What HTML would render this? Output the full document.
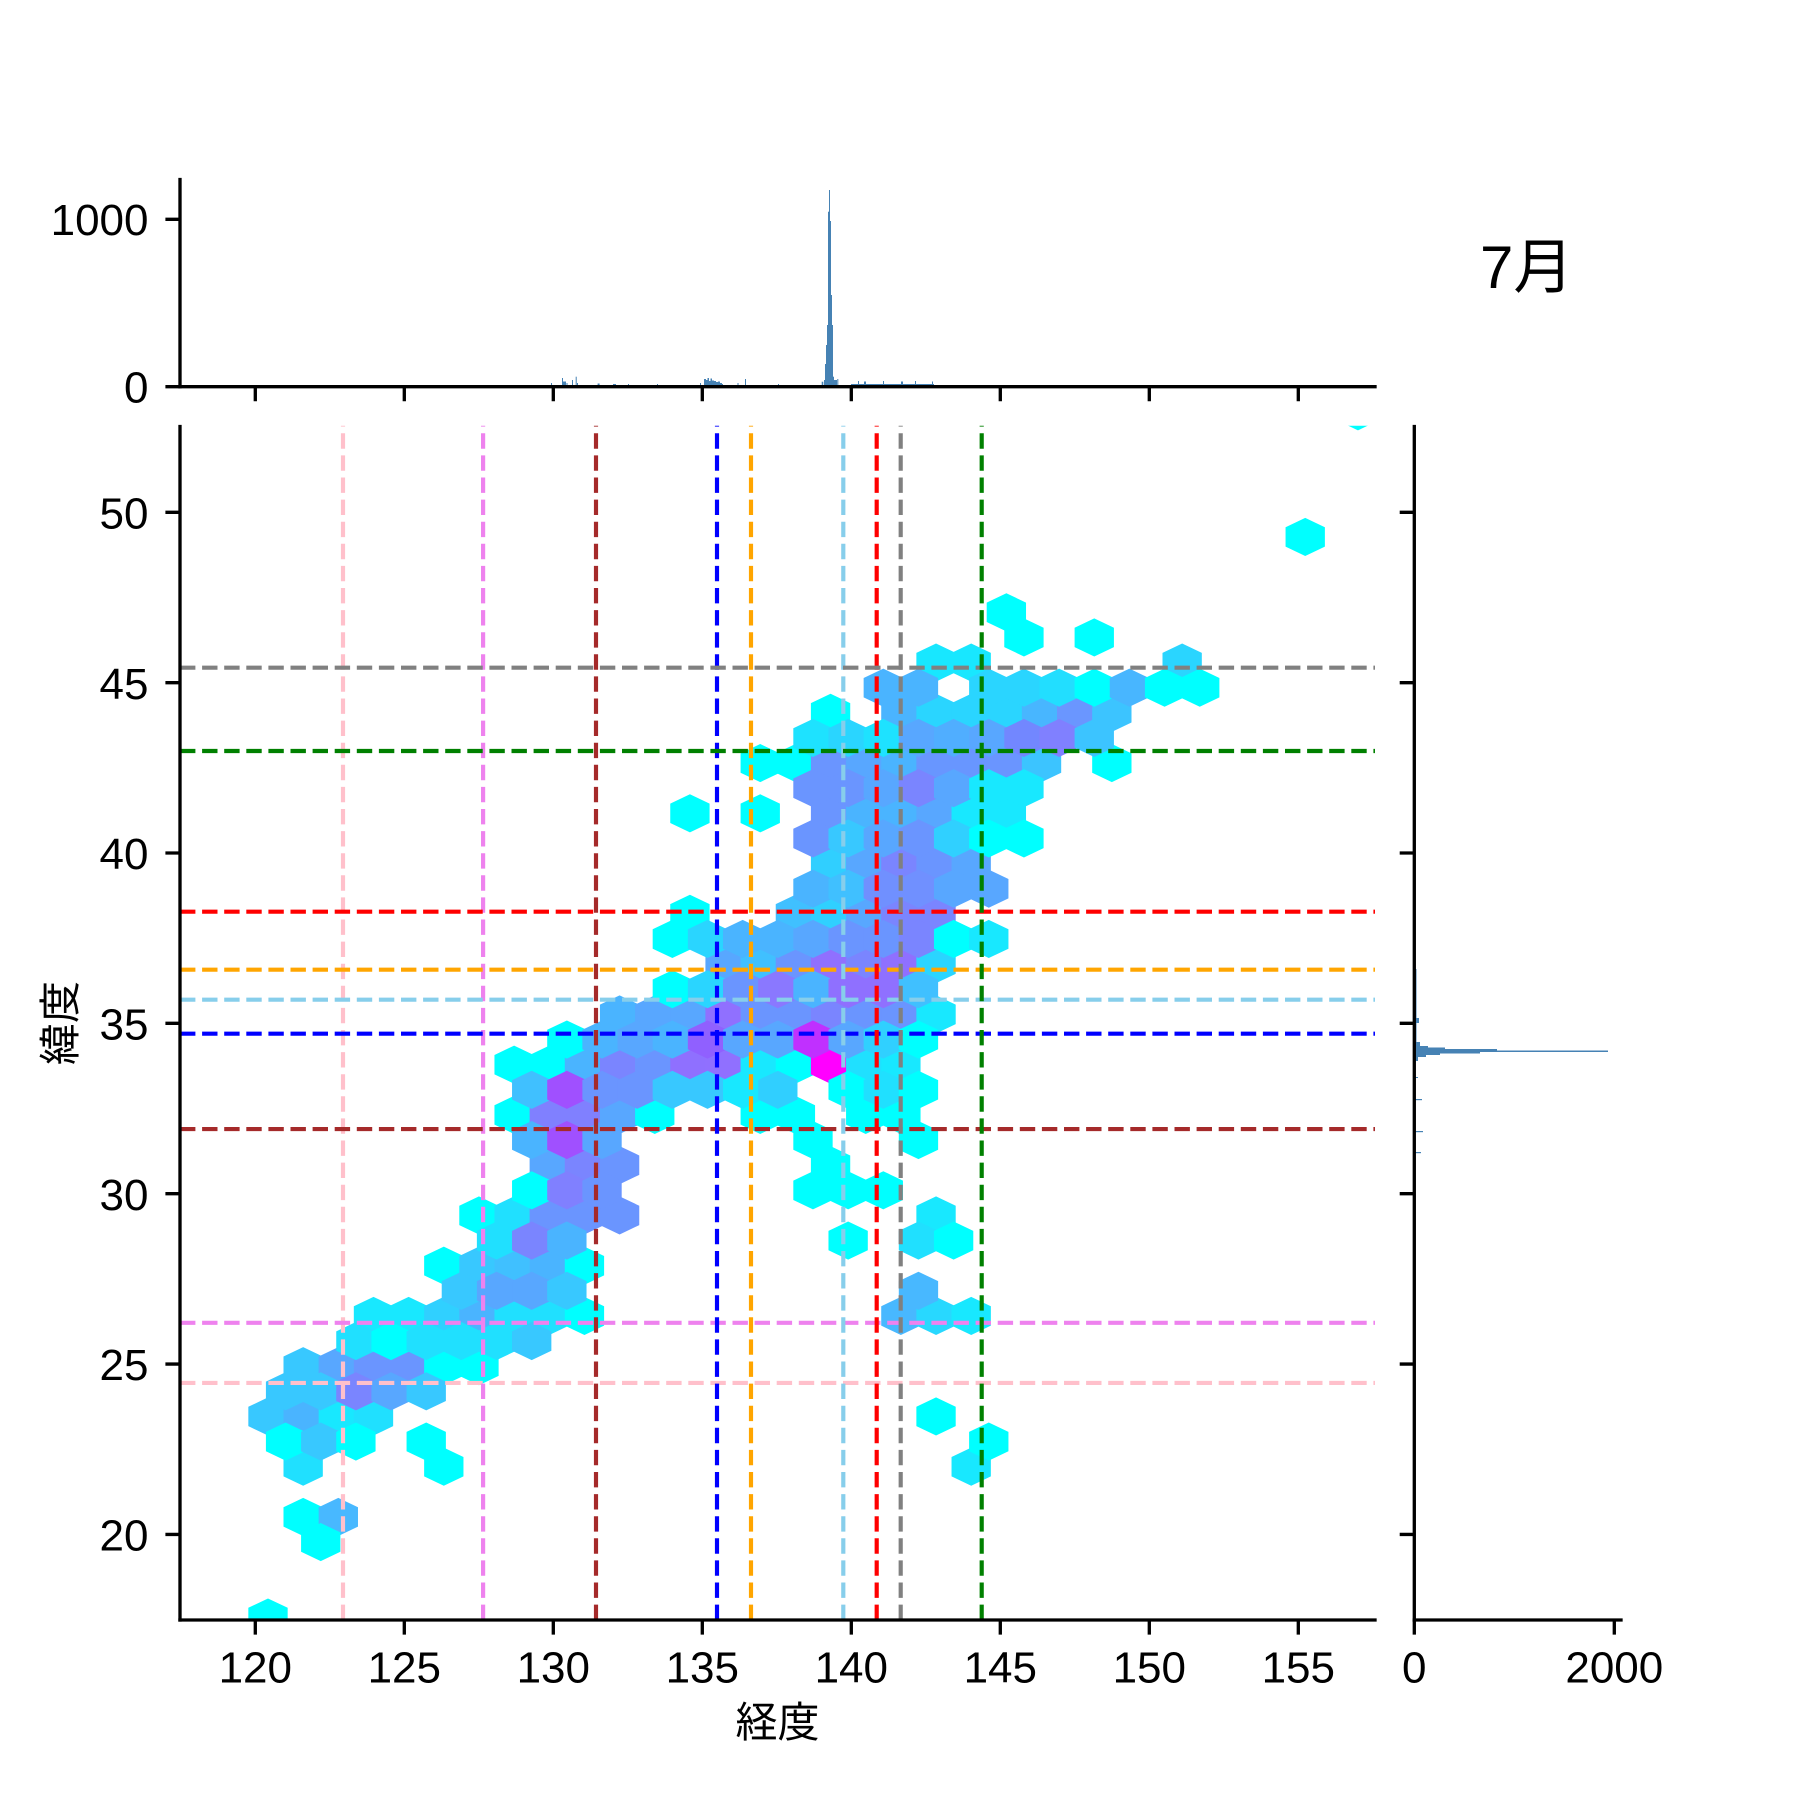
<!DOCTYPE html>
<html><head><meta charset="utf-8"><style>
html,body{margin:0;padding:0;background:#fff;}
svg{display:block;}
.t{font-family:"Liberation Sans","Noto Sans CJK JP",sans-serif;font-size:44px;fill:#000;}
.j{font-family:"Liberation Sans","Noto Sans CJK JP",sans-serif;font-size:42px;fill:#000;}
</style></head><body>
<svg width="1800" height="1800" viewBox="0 0 1800 1800" xmlns="http://www.w3.org/2000/svg">
<defs>
<polygon id="H" points="0,0.7585 0.5593,0.3859 0.5593,-0.3859 0,-0.7585 -0.5593,-0.3859 -0.5593,0.3859"/>
<clipPath id="cm"><rect x="180" y="425.7" width="1195" height="1194.3"/></clipPath>
</defs>
<rect width="1800" height="1800" fill="#fff"/>

<g clip-path="url(#cm)">
<g transform="translate(268 1617.5) scale(35.16 -25.13)">
<use href="#H" x="0" y="0" fill="#00ffff"/>
<use href="#H" x="1" y="4" fill="#00ffff"/><use href="#H" x="2" y="4" fill="#48b8ff"/>
<use href="#H" x="1" y="6" fill="#20e0ff"/><use href="#H" x="5" y="6" fill="#00ffff"/><use href="#H" x="20" y="6" fill="#18e8ff"/>
<use href="#H" x="0" y="8" fill="#38c8ff"/><use href="#H" x="1" y="8" fill="#4ab4ff"/><use href="#H" x="2" y="8" fill="#18e8ff"/><use href="#H" x="3" y="8" fill="#20e0ff"/><use href="#H" x="19" y="8" fill="#00ffff"/>
<use href="#H" x="1" y="10" fill="#38c8ff"/><use href="#H" x="2" y="10" fill="#58a7ff"/><use href="#H" x="3" y="10" fill="#6a95ff"/><use href="#H" x="4" y="10" fill="#6a95ff"/><use href="#H" x="5" y="10" fill="#00ffff"/><use href="#H" x="6" y="10" fill="#00ffff"/>
<use href="#H" x="3" y="12" fill="#18e8ff"/><use href="#H" x="4" y="12" fill="#18e8ff"/><use href="#H" x="5" y="12" fill="#30d0ff"/><use href="#H" x="6" y="12" fill="#4ab4ff"/><use href="#H" x="7" y="12" fill="#20e0ff"/><use href="#H" x="8" y="12" fill="#20e0ff"/><use href="#H" x="9" y="12" fill="#00ffff"/><use href="#H" x="18" y="12" fill="#48b8ff"/><use href="#H" x="19" y="12" fill="#28d8ff"/><use href="#H" x="20" y="12" fill="#18e8ff"/>
<use href="#H" x="5" y="14" fill="#00ffff"/><use href="#H" x="6" y="14" fill="#38c8ff"/><use href="#H" x="7" y="14" fill="#40c0ff"/><use href="#H" x="8" y="14" fill="#4ab4ff"/><use href="#H" x="9" y="14" fill="#00ffff"/>
<use href="#H" x="6" y="16" fill="#00ffff"/><use href="#H" x="7" y="16" fill="#20e0ff"/><use href="#H" x="8" y="16" fill="#6a95ff"/><use href="#H" x="9" y="16" fill="#6a95ff"/><use href="#H" x="10" y="16" fill="#6a95ff"/><use href="#H" x="19" y="16" fill="#18e8ff"/>
<use href="#H" x="8" y="18" fill="#58a7ff"/><use href="#H" x="9" y="18" fill="#7a85ff"/><use href="#H" x="10" y="18" fill="#6a95ff"/><use href="#H" x="16" y="18" fill="#00ffff"/>
<use href="#H" x="7" y="20" fill="#00ffff"/><use href="#H" x="8" y="20" fill="#8080ff"/><use href="#H" x="9" y="20" fill="#8080ff"/><use href="#H" x="10" y="20" fill="#58a7ff"/><use href="#H" x="11" y="20" fill="#00ffff"/><use href="#H" x="14" y="20" fill="#00ffff"/><use href="#H" x="15" y="20" fill="#00ffff"/><use href="#H" x="17" y="20" fill="#00ffff"/><use href="#H" x="18" y="20" fill="#00ffff"/>
<use href="#H" x="7" y="22" fill="#00ffff"/><use href="#H" x="8" y="22" fill="#00ffff"/><use href="#H" x="9" y="22" fill="#4ab4ff"/><use href="#H" x="10" y="22" fill="#7a85ff"/><use href="#H" x="11" y="22" fill="#6a95ff"/><use href="#H" x="12" y="22" fill="#8f70ff"/><use href="#H" x="13" y="22" fill="#9070ff"/><use href="#H" x="14" y="22" fill="#18e8ff"/><use href="#H" x="15" y="22" fill="#00ffff"/><use href="#H" x="16" y="22" fill="#ff00ff"/><use href="#H" x="17" y="22" fill="#20e0ff"/><use href="#H" x="18" y="22" fill="#18e8ff"/>
<use href="#H" x="10" y="24" fill="#4ab4ff"/><use href="#H" x="11" y="24" fill="#58a7ff"/><use href="#H" x="12" y="24" fill="#58a7ff"/><use href="#H" x="13" y="24" fill="#9070ff"/><use href="#H" x="14" y="24" fill="#6a95ff"/><use href="#H" x="15" y="24" fill="#6a95ff"/><use href="#H" x="16" y="24" fill="#7a85ff"/><use href="#H" x="17" y="24" fill="#6a95ff"/><use href="#H" x="18" y="24" fill="#6a95ff"/><use href="#H" x="19" y="24" fill="#18e8ff"/>
<use href="#H" x="13" y="26" fill="#58a7ff"/><use href="#H" x="14" y="26" fill="#40c0ff"/><use href="#H" x="15" y="26" fill="#6a95ff"/><use href="#H" x="16" y="26" fill="#9070ff"/><use href="#H" x="17" y="26" fill="#7a85ff"/><use href="#H" x="18" y="26" fill="#8f70ff"/><use href="#H" x="19" y="26" fill="#2ad5ff"/>
<use href="#H" x="12" y="28" fill="#00ffff"/><use href="#H" x="15" y="28" fill="#40c0ff"/><use href="#H" x="16" y="28" fill="#30d0ff"/><use href="#H" x="17" y="28" fill="#58a7ff"/><use href="#H" x="18" y="28" fill="#7a85ff"/><use href="#H" x="19" y="28" fill="#7a85ff"/>
<use href="#H" x="16" y="30" fill="#30cfff"/><use href="#H" x="17" y="30" fill="#58a7ff"/><use href="#H" x="18" y="30" fill="#7a85ff"/><use href="#H" x="19" y="30" fill="#6a95ff"/><use href="#H" x="20" y="30" fill="#58a7ff"/>
<use href="#H" x="12" y="32" fill="#00ffff"/><use href="#H" x="14" y="32" fill="#00ffff"/><use href="#H" x="16" y="32" fill="#6a95ff"/><use href="#H" x="17" y="32" fill="#4ab4ff"/><use href="#H" x="18" y="32" fill="#4ab4ff"/><use href="#H" x="19" y="32" fill="#58a7ff"/><use href="#H" x="20" y="32" fill="#18e8ff"/><use href="#H" x="21" y="32" fill="#18e8ff"/>
<use href="#H" x="14" y="34" fill="#00ffff"/><use href="#H" x="15" y="34" fill="#00ffff"/><use href="#H" x="16" y="34" fill="#6a95ff"/><use href="#H" x="17" y="34" fill="#58a7ff"/><use href="#H" x="18" y="34" fill="#4ab4ff"/><use href="#H" x="19" y="34" fill="#6896ff"/><use href="#H" x="20" y="34" fill="#6896ff"/><use href="#H" x="21" y="34" fill="#6a95ff"/><use href="#H" x="22" y="34" fill="#3cc4ff"/><use href="#H" x="24" y="34" fill="#00ffff"/>
<use href="#H" x="16" y="36" fill="#00ffff"/><use href="#H" x="18" y="36" fill="#4ab4ff"/><use href="#H" x="19" y="36" fill="#2ad5ff"/><use href="#H" x="20" y="36" fill="#2ad5ff"/><use href="#H" x="21" y="36" fill="#2ad5ff"/><use href="#H" x="22" y="36" fill="#48b6ff"/><use href="#H" x="23" y="36" fill="#6a96ff"/><use href="#H" x="24" y="36" fill="#3cc4ff"/>
<use href="#H" x="19" y="38" fill="#18e7ff"/><use href="#H" x="20" y="38" fill="#18e7ff"/><use href="#H" x="26" y="38" fill="#2ad5ff"/>
<use href="#H" x="21" y="40" fill="#00ffff"/>
<use href="#H" x="31" y="48" fill="#00ffff"/>
<use href="#H" x="1.5" y="3" fill="#00ffff"/>
<use href="#H" x="0.5" y="7" fill="#00ffff"/><use href="#H" x="1.5" y="7" fill="#38c8ff"/><use href="#H" x="2.5" y="7" fill="#00ffff"/><use href="#H" x="4.5" y="7" fill="#00ffff"/><use href="#H" x="20.5" y="7" fill="#00ffff"/>
<use href="#H" x="0.5" y="9" fill="#38c8ff"/><use href="#H" x="1.5" y="9" fill="#38c8ff"/><use href="#H" x="2.5" y="9" fill="#7a85ff"/><use href="#H" x="3.5" y="9" fill="#58a7ff"/><use href="#H" x="4.5" y="9" fill="#38c8ff"/>
<use href="#H" x="2.5" y="11" fill="#20e0ff"/><use href="#H" x="3.5" y="11" fill="#00ffff"/><use href="#H" x="4.5" y="11" fill="#20e0ff"/><use href="#H" x="5.5" y="11" fill="#20e0ff"/><use href="#H" x="6.5" y="11" fill="#20e0ff"/><use href="#H" x="7.5" y="11" fill="#38c8ff"/>
<use href="#H" x="5.5" y="13" fill="#38c8ff"/><use href="#H" x="6.5" y="13" fill="#58a7ff"/><use href="#H" x="7.5" y="13" fill="#58a7ff"/><use href="#H" x="8.5" y="13" fill="#38c8ff"/><use href="#H" x="18.5" y="13" fill="#48b8ff"/>
<use href="#H" x="6.5" y="15" fill="#20e0ff"/><use href="#H" x="7.5" y="15" fill="#7a85ff"/><use href="#H" x="8.5" y="15" fill="#4ab4ff"/><use href="#H" x="16.5" y="15" fill="#00ffff"/><use href="#H" x="18.5" y="15" fill="#20e0ff"/><use href="#H" x="19.5" y="15" fill="#00ffff"/>
<use href="#H" x="7.5" y="17" fill="#00ffff"/><use href="#H" x="8.5" y="17" fill="#8080ff"/><use href="#H" x="9.5" y="17" fill="#6a95ff"/><use href="#H" x="15.5" y="17" fill="#00ffff"/><use href="#H" x="16.5" y="17" fill="#00ffff"/><use href="#H" x="17.5" y="17" fill="#00ffff"/>
<use href="#H" x="7.5" y="19" fill="#4ab4ff"/><use href="#H" x="8.5" y="19" fill="#a050ff"/><use href="#H" x="9.5" y="19" fill="#58a7ff"/><use href="#H" x="15.5" y="19" fill="#00ffff"/><use href="#H" x="18.5" y="19" fill="#00ffff"/>
<use href="#H" x="7.5" y="21" fill="#40c0ff"/><use href="#H" x="8.5" y="21" fill="#a050ff"/><use href="#H" x="9.5" y="21" fill="#6a95ff"/><use href="#H" x="10.5" y="21" fill="#6a95ff"/><use href="#H" x="11.5" y="21" fill="#38c8ff"/><use href="#H" x="12.5" y="21" fill="#38c8ff"/><use href="#H" x="13.5" y="21" fill="#18e8ff"/><use href="#H" x="14.5" y="21" fill="#30cfff"/><use href="#H" x="16.5" y="21" fill="#00ffff"/><use href="#H" x="17.5" y="21" fill="#20e0ff"/><use href="#H" x="18.5" y="21" fill="#00ffff"/>
<use href="#H" x="8.5" y="23" fill="#00ffff"/><use href="#H" x="9.5" y="23" fill="#4ab4ff"/><use href="#H" x="10.5" y="23" fill="#58a7ff"/><use href="#H" x="11.5" y="23" fill="#4ab4ff"/><use href="#H" x="12.5" y="23" fill="#9060ff"/><use href="#H" x="13.5" y="23" fill="#58a7ff"/><use href="#H" x="14.5" y="23" fill="#58a7ff"/><use href="#H" x="15.5" y="23" fill="#c030ff"/><use href="#H" x="16.5" y="23" fill="#58a7ff"/><use href="#H" x="17.5" y="23" fill="#30d0ff"/><use href="#H" x="18.5" y="23" fill="#00ffff"/>
<use href="#H" x="11.5" y="25" fill="#00ffff"/><use href="#H" x="12.5" y="25" fill="#2ad5ff"/><use href="#H" x="13.5" y="25" fill="#6a95ff"/><use href="#H" x="14.5" y="25" fill="#8a78ff"/><use href="#H" x="15.5" y="25" fill="#4ab4ff"/><use href="#H" x="16.5" y="25" fill="#8f70ff"/><use href="#H" x="17.5" y="25" fill="#8f70ff"/><use href="#H" x="18.5" y="25" fill="#40c0ff"/>
<use href="#H" x="11.5" y="27" fill="#00ffff"/><use href="#H" x="12.5" y="27" fill="#2ad5ff"/><use href="#H" x="13.5" y="27" fill="#4ab4ff"/><use href="#H" x="14.5" y="27" fill="#4ab4ff"/><use href="#H" x="15.5" y="27" fill="#58a7ff"/><use href="#H" x="16.5" y="27" fill="#6a95ff"/><use href="#H" x="17.5" y="27" fill="#6a95ff"/><use href="#H" x="18.5" y="27" fill="#7a85ff"/><use href="#H" x="19.5" y="27" fill="#00ffff"/><use href="#H" x="20.5" y="27" fill="#18e8ff"/>
<use href="#H" x="15.5" y="29" fill="#4ab4ff"/><use href="#H" x="16.5" y="29" fill="#40c0ff"/><use href="#H" x="17.5" y="29" fill="#7090ff"/><use href="#H" x="18.5" y="29" fill="#7090ff"/><use href="#H" x="19.5" y="29" fill="#58a7ff"/><use href="#H" x="20.5" y="29" fill="#58a7ff"/>
<use href="#H" x="15.5" y="31" fill="#6a95ff"/><use href="#H" x="16.5" y="31" fill="#38c8ff"/><use href="#H" x="17.5" y="31" fill="#58a7ff"/><use href="#H" x="18.5" y="31" fill="#6a95ff"/><use href="#H" x="19.5" y="31" fill="#30d0ff"/><use href="#H" x="20.5" y="31" fill="#00ffff"/><use href="#H" x="21.5" y="31" fill="#00ffff"/>
<use href="#H" x="15.5" y="33" fill="#6a95ff"/><use href="#H" x="16.5" y="33" fill="#6a95ff"/><use href="#H" x="17.5" y="33" fill="#58a7ff"/><use href="#H" x="18.5" y="33" fill="#7a85ff"/><use href="#H" x="19.5" y="33" fill="#58a7ff"/><use href="#H" x="20.5" y="33" fill="#18e8ff"/><use href="#H" x="21.5" y="33" fill="#18e8ff"/>
<use href="#H" x="15.5" y="35" fill="#1ee2ff"/><use href="#H" x="16.5" y="35" fill="#2ad5ff"/><use href="#H" x="17.5" y="35" fill="#1ee2ff"/><use href="#H" x="18.5" y="35" fill="#58a7ff"/><use href="#H" x="19.5" y="35" fill="#50aeff"/><use href="#H" x="20.5" y="35" fill="#58a7ff"/><use href="#H" x="21.5" y="35" fill="#7287ff"/><use href="#H" x="22.5" y="35" fill="#8080ff"/><use href="#H" x="23.5" y="35" fill="#3cc4ff"/>
<use href="#H" x="17.5" y="37" fill="#4ab4ff"/><use href="#H" x="18.5" y="37" fill="#4ab4ff"/><use href="#H" x="20.5" y="37" fill="#2ad5ff"/><use href="#H" x="21.5" y="37" fill="#2ad5ff"/><use href="#H" x="22.5" y="37" fill="#22deff"/><use href="#H" x="23.5" y="37" fill="#00ffff"/><use href="#H" x="24.5" y="37" fill="#48b6ff"/><use href="#H" x="25.5" y="37" fill="#00ffff"/><use href="#H" x="26.5" y="37" fill="#00ffff"/>
<use href="#H" x="21.5" y="39" fill="#00ffff"/><use href="#H" x="23.5" y="39" fill="#00ffff"/>
<use href="#H" x="29.5" y="43" fill="#00ffff"/>
</g>

<g stroke-width="4.17" stroke-dasharray="15.4 6.7" fill="none">
<line x1="343" y1="1620" x2="343" y2="425" stroke="#ffc0cb"/>
<line x1="180" y1="1382.9" x2="1375" y2="1382.9" stroke="#ffc0cb"/>
<line x1="483.1" y1="1620" x2="483.1" y2="425" stroke="#ee82ee"/>
<line x1="180" y1="1322.8" x2="1375" y2="1322.8" stroke="#ee82ee"/>
<line x1="596" y1="1620" x2="596" y2="425" stroke="#a52a2a"/>
<line x1="180" y1="1129.1" x2="1375" y2="1129.1" stroke="#a52a2a"/>
<line x1="717" y1="1620" x2="717" y2="425" stroke="#0000ff"/>
<line x1="180" y1="1033.7" x2="1375" y2="1033.7" stroke="#0000ff"/>
<line x1="751" y1="1620" x2="751" y2="425" stroke="#ffa500"/>
<line x1="180" y1="969.7" x2="1375" y2="969.7" stroke="#ffa500"/>
<line x1="843.3" y1="1620" x2="843.3" y2="425" stroke="#87ceeb"/>
<line x1="180" y1="999.7" x2="1375" y2="999.7" stroke="#87ceeb"/>
<line x1="876.7" y1="1620" x2="876.7" y2="425" stroke="#ff0000"/>
<line x1="180" y1="911.7" x2="1375" y2="911.7" stroke="#ff0000"/>
<line x1="900.7" y1="1620" x2="900.7" y2="425" stroke="#808080"/>
<line x1="180" y1="667.7" x2="1375" y2="667.7" stroke="#808080"/>
<line x1="981.7" y1="1620" x2="981.7" y2="425" stroke="#008000"/>
<line x1="180" y1="751" x2="1375" y2="751" stroke="#008000"/>
</g>
</g>

<g fill="#4682b4">
<rect x="821.7" y="381.7" width="1.6" height="4.8"/>
<rect x="824" y="380" width="1" height="6.5"/>
<rect x="825" y="364" width="1" height="22.5"/>
<rect x="826" y="345" width="1" height="41.5"/>
<rect x="827" y="325" width="1" height="61.5"/>
<rect x="828" y="211.7" width="1" height="174.8"/>
<rect x="829" y="190" width="1" height="196.5"/>
<rect x="830" y="221" width="1" height="165.5"/>
<rect x="831" y="295" width="1" height="91.5"/>
<rect x="832" y="325" width="1" height="61.5"/>
<rect x="833" y="376.7" width="1" height="9.8"/>
<rect x="834" y="380" width="3" height="6.5"/>
<rect x="837.3" y="379" width="1" height="7.5"/>
<rect x="551" y="383" width="1" height="3.5"/>
<rect x="562" y="378" width="1" height="8.5"/>
<rect x="563" y="381.5" width="3" height="5"/>
<rect x="566.5" y="383" width="1" height="3.5"/>
<rect x="572" y="380" width="1" height="6.5"/>
<rect x="575.7" y="376.7" width="1" height="9.8"/>
<rect x="577" y="383" width="1" height="3.5"/>
<rect x="597.6" y="383.5" width="2" height="3"/>
<rect x="613" y="384" width="3" height="2.5"/>
<rect x="628" y="384" width="1" height="2.5"/>
<rect x="657" y="384" width="1" height="2.5"/>
<rect x="700" y="383" width="1" height="3.5"/>
<rect x="704" y="379" width="2" height="7.5"/>
<rect x="706" y="380" width="1.5" height="6.5"/>
<rect x="707.5" y="378" width="1.5" height="8.5"/>
<rect x="709" y="381" width="1.5" height="5.5"/>
<rect x="710.5" y="378.5" width="1.5" height="8"/>
<rect x="712" y="380.5" width="2" height="6"/>
<rect x="714" y="381" width="2" height="5.5"/>
<rect x="716" y="382" width="2" height="4.5"/>
<rect x="718" y="381.5" width="2" height="5"/>
<rect x="720" y="383" width="2" height="3.5"/>
<rect x="722" y="384" width="1" height="2.5"/>
<rect x="737.5" y="383" width="1" height="3.5"/>
<rect x="745" y="379" width="1" height="7.5"/>
<rect x="778" y="384" width="1" height="2.5"/>
<rect x="851" y="384" width="83" height="2.5"/>
<rect x="858" y="381" width="1" height="5.5"/>
<rect x="864" y="381.5" width="2" height="5"/>
<rect x="883" y="381" width="1" height="5.5"/>
<rect x="901" y="381.5" width="2" height="5"/>
<rect x="915" y="381" width="1" height="5.5"/>
<rect x="932" y="381.5" width="1" height="5"/>
</g>

<g fill="#4682b4">
<rect x="1414" y="1050.5" width="194" height="1.5"/>
<rect x="1414" y="1049" width="83" height="1.5"/>
<rect x="1414" y="1052" width="66" height="1.5"/>
<rect x="1414" y="1047.5" width="31" height="1.5"/>
<rect x="1414" y="1053.5" width="26" height="1.5"/>
<rect x="1414" y="1046" width="14" height="1.5"/>
<rect x="1414" y="1055" width="12" height="2"/>
<rect x="1414" y="1042" width="6" height="4"/>
<rect x="1414" y="1057" width="4" height="4"/>
<rect x="1414" y="969" width="2.5" height="73"/>
<rect x="1414" y="1018" width="5" height="5"/>
<rect x="1414" y="1077" width="4" height="1"/>
<rect x="1414" y="1099" width="8" height="1.2"/>
<rect x="1414" y="1131" width="9" height="1.2"/>
<rect x="1414" y="1152" width="7" height="1.2"/>
</g>

<g stroke="#000" stroke-width="3.33" fill="none" stroke-linecap="square">
<line x1="180" y1="426.5" x2="180" y2="1620"/>
<line x1="180" y1="1620" x2="1375" y2="1620"/>
<line x1="180" y1="179.5" x2="180" y2="386.7"/>
<line x1="180" y1="386.7" x2="1375" y2="386.7"/>
<line x1="1414.3" y1="426.5" x2="1414.3" y2="1620"/>
<line x1="1414.3" y1="1620" x2="1621" y2="1620"/>
</g>
<g stroke="#000" stroke-width="3.33" fill="none">
<path d="M255.3 1620v14.6M404.3 1620v14.6M553.3 1620v14.6M702.3 1620v14.6M851.3 1620v14.6M1000.3 1620v14.6M1149.3 1620v14.6M1298.3 1620v14.6"/>
<path d="M180 1534.4h-14.6M180 1364.05h-14.6M180 1193.7h-14.6M180 1023.35h-14.6M180 853h-14.6M180 682.65h-14.6M180 512.3h-14.6"/>
<path d="M255.3 386.7v14.6M404.3 386.7v14.6M553.3 386.7v14.6M702.3 386.7v14.6M851.3 386.7v14.6M1000.3 386.7v14.6M1149.3 386.7v14.6M1298.3 386.7v14.6"/>
<path d="M180 386.7h-14.6M180 219.3h-14.6"/>
<path d="M1414.3 1534.4h-14.6M1414.3 1364.05h-14.6M1414.3 1193.7h-14.6M1414.3 1023.35h-14.6M1414.3 853h-14.6M1414.3 682.65h-14.6M1414.3 512.3h-14.6"/>
<path d="M1414.3 1620v14.6M1614.3 1620v14.6"/>
</g>

<g class="t" text-anchor="middle">
<text x="255.3" y="1682.5">120</text>
<text x="404.3" y="1682.5">125</text>
<text x="553.3" y="1682.5">130</text>
<text x="702.3" y="1682.5">135</text>
<text x="851.3" y="1682.5">140</text>
<text x="1000.3" y="1682.5">145</text>
<text x="1149.3" y="1682.5">150</text>
<text x="1298.3" y="1682.5">155</text>
<text x="1414.3" y="1682.5">0</text>
<text x="1614.3" y="1682.5">2000</text>
</g>
<g class="t" text-anchor="end">
<text x="148.5" y="1550.5">20</text>
<text x="148.5" y="1380.2">25</text>
<text x="148.5" y="1209.8">30</text>
<text x="148.5" y="1039.5">35</text>
<text x="148.5" y="869.1">40</text>
<text x="148.5" y="698.8">45</text>
<text x="148.5" y="528.4">50</text>
<text x="148.5" y="402.3">0</text>
<text x="148.5" y="235.2">1000</text>
</g>

<text class="j" x="777.5" y="1737" text-anchor="middle">経度</text>
<text class="j" transform="translate(75 1023) rotate(-90)" text-anchor="middle">緯度</text>

<text x="1480" y="288" style="font-family:'Liberation Sans','Noto Sans CJK JP',sans-serif;font-size:60px;fill:#000;">7月</text>
</svg>
</body></html>
